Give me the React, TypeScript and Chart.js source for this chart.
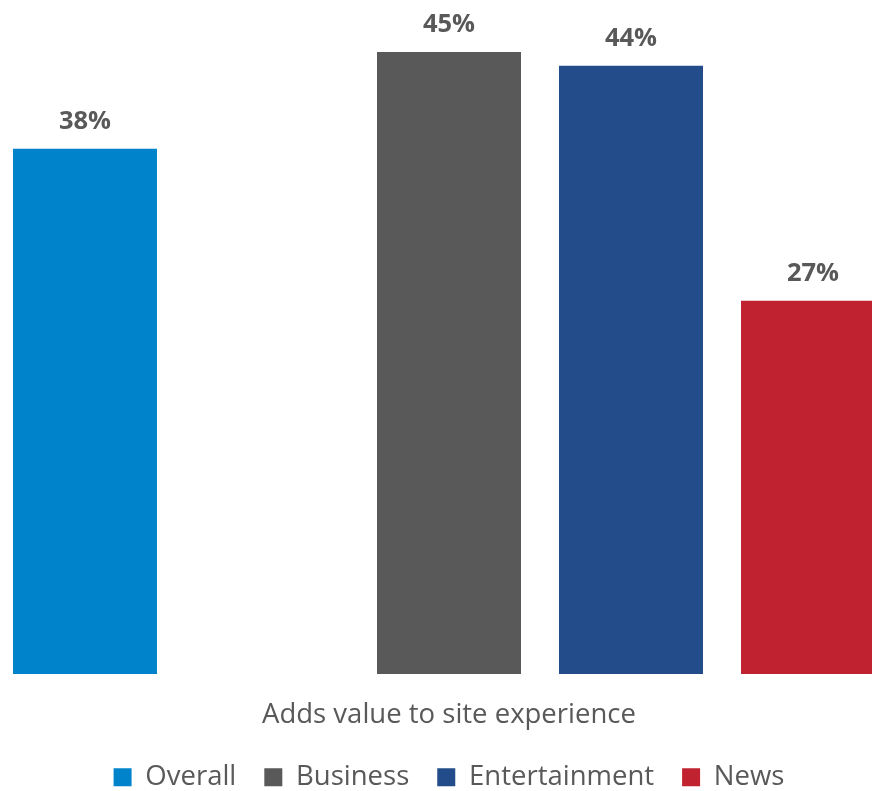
import { useEffect, useRef } from 'react';
import { Chart, registerables } from 'chart.js';

Chart.register(...registerables);

const categories = ['Adds value to site experience'];
const axisTitle = 'Adds value to site experience';
const seriesNames = ['Overall', '', 'Business', 'Entertainment', 'News'];
const overallValues = [38];
const spacerValues = [null];
const businessValues = [45];
const entertainmentValues = [44];
const newsValues = [27];
const seriesColors = ['#0083CA', 'rgba(0,0,0,0)', '#595959', '#224C8A', '#C0232F'];

const FONT = "'Open Sans', sans-serif";
const TEXT = '#595959';

const valueLabels = {
  id: 'valueLabels',
  afterDatasetsDraw(chart: any) {
    const ctx = chart.ctx;
    ctx.save();
    ctx.font = `bold 25.5px ${FONT}`;
    ctx.fillStyle = TEXT;
    ctx.textAlign = 'center';
    ctx.textBaseline = 'alphabetic';
    chart.data.datasets.forEach((ds: any, i: number) => {
      const meta = chart.getDatasetMeta(i);
      meta.data.forEach((el: any, j: number) => {
        const v = ds.data[j];
        if (v == null) return;
        ctx.fillText(`${v}%`, el.x, el.y - 20);
      });
    });
    ctx.restore();
  },
};

export default function App() {
  const ref = useRef<HTMLCanvasElement | null>(null);

  useEffect(() => {
    document.documentElement.style.overflow = 'hidden';
    document.body.style.overflow = 'hidden';
    document.body.style.margin = '0';
    const canvas = ref.current;
    if (!canvas) return;
    Chart.defaults.font.family = FONT;
    const seriesValues = [overallValues, spacerValues, businessValues, entertainmentValues, newsValues];
    const chart = new Chart(canvas, {
      type: 'bar',
      data: {
        labels: categories,
        datasets: seriesNames.map((name, i) => ({
          label: name,
          data: seriesValues[i] as any,
          backgroundColor: seriesColors[i],
          borderWidth: 0,
          categoryPercentage: 1.0134,
          barPercentage: 0.7912,
        })),
      },
      options: {
        animation: false,
        responsive: false,
        layout: { padding: { left: 0, right: 11, top: 0, bottom: 0 } },
        scales: {
          x: {
            grid: { display: false, drawTicks: false },
            border: { display: false },
            ticks: { display: false },
            title: {
              display: true,
              text: axisTitle,
              color: TEXT,
              font: { size: 27.5, family: FONT },
              padding: { top: 25, bottom: 3.5 },
            },
          },
          y: { display: false, min: 0, max: 48.76 },
        },
        plugins: {
          legend: {
            position: 'bottom',
            labels: {
              boxWidth: 18,
              boxHeight: 18,
              padding: 28,
              color: TEXT,
              font: { size: 27.5, family: FONT },
              filter: (item: any) => item.text !== '',
            },
          },
          tooltip: { enabled: false },
        },
      },
      plugins: [valueLabels],
    });
    return () => chart.destroy();
  }, []);

  return (
    <div style={{ position: 'absolute', left: 0, top: 0, width: 909, height: 801 }}>
      <canvas ref={ref} width={909} height={801} />
    </div>
  );
}
